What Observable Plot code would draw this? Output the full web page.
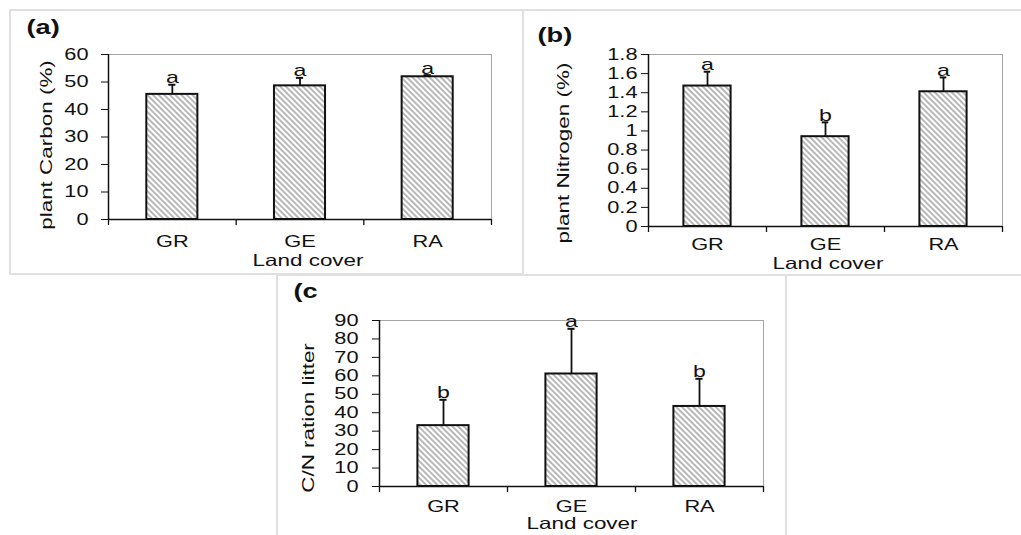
<!DOCTYPE html>
<html><head><meta charset="utf-8">
<script src="https://cdn.jsdelivr.net/npm/d3@7"></script>
<script src="https://cdn.jsdelivr.net/npm/@observablehq/plot@0.6"></script>
<style>
body{margin:0;background:#fff;width:1021px;height:535px;overflow:hidden;position:relative;font-family:"Liberation Sans",Arial,sans-serif;}
.panel{position:absolute;box-sizing:border-box;border:2px solid #e0e0e0;}
</style></head><body>
<svg width="0" height="0" style="position:absolute">
<defs><pattern id="hatch" patternUnits="userSpaceOnUse" width="4" height="4" patternTransform="rotate(-45)">
<rect width="4" height="4" fill="#fff"/><line x1="1" y1="-1" x2="1" y2="5" stroke="#a0a0a0" stroke-width="1.5"/></pattern></defs></svg>
<div class="panel" style="left:9px;top:9px;width:515px;height:266px"></div>
<div class="panel" style="left:522px;top:9px;width:510px;height:267px"></div>
<div class="panel" style="left:276px;top:274px;width:511px;height:270px"></div>
<script>
const categories = ["GR", "GE", "RA"];
const xLabel = "Land cover";

const carbonMean = [45.5, 48.6, 51.9];
const carbonSD = [3.5, 2.9, 0.6];
const carbonLetters = ["a", "a", "a"];
const carbonTicks = [0, 10, 20, 30, 40, 50, 60];

const nitrogenMean = [1.47, 0.94, 1.41];
const nitrogenSD = [0.15, 0.15, 0.15];
const nitrogenLetters = ["a", "b", "a"];
const nitrogenTicks = [0, 0.2, 0.4, 0.6, 0.8, 1, 1.2, 1.4, 1.6, 1.8];

const cnMean = [33, 61, 43.4];
const cnSD = [14, 24.5, 15];
const cnLetters = ["b", "a", "b"];
const cnTicks = [0, 10, 20, 30, 40, 50, 60, 70, 80, 90];

const panelLabels = ["(a)", "(b)", "(c"];
const yLabels = ["plant Carbon (%)", "plant Nitrogen (%)", "C/N ration litter"];

function makePanel(p) {
  const data = categories.map((c, i) => ({cat: c, i, mean: p.mean[i], top: p.mean[i] + p.sd[i], letter: p.letters[i]}));
  const plotH = p.height - p.mt - p.mb;
  const svg = Plot.plot({
    width: p.width, height: p.height,
    marginLeft: p.ml, marginRight: p.mr, marginTop: p.mt, marginBottom: p.mb,
    style: {position: "absolute", left: p.left + "px", top: p.top + "px", background: "transparent",
            overflow: "visible", fontFamily: '"Liberation Sans", Arial, sans-serif', fontSize: "16px", color: "#111"},
    x: {domain: [0, 3]},
    y: {domain: [p.ticks[0], p.ticks[p.ticks.length - 1]]},
    marks: [
      Plot.frame({stroke: "#a5a5a5", strokeWidth: 1}),
      Plot.rectY(data, {x1: d => d.i + 0.3, x2: d => d.i + 0.7, y1: 0, y2: "mean", fill: "url(#hatch)", stroke: "#111", strokeWidth: 2}),
      Plot.ruleX(data, {x: d => d.i + 0.5, y1: "mean", y2: "top", stroke: "#111", strokeWidth: 1.8}),
      Plot.ruleY(data, {y: "top", x1: d => d.i + 0.5 - 0.028, x2: d => d.i + 0.5 + 0.028, stroke: "#111", strokeWidth: 2}),
      Plot.text(data, {x: d => d.i + 0.5, y: "top", text: "letter", lineAnchor: "bottom", dy: -1.5, fontSize: 17, fill: "#111", ariaLabel: "letters"}),
      Plot.ruleX([0], {stroke: "#111", strokeWidth: 1.5}),
      Plot.ruleY([0], {stroke: "#111", strokeWidth: 1.5}),
      Plot.ruleX([0, 1, 2, 3], {insetTop: plotH, insetBottom: -6, stroke: "#111", strokeWidth: 1.3}),
      Plot.axisY({ticks: p.ticks, tickSize: 7, tickPadding: p.tp, tickFormat: d => String(d), label: null, fontSize: 16, fill: "#111"}),
      Plot.axisX({ticks: [0.5, 1.5, 2.5], tickFormat: d => categories[Math.floor(d)], tickSize: 0, tickPadding: p.xtp, label: null, fontSize: 16, fill: "#111"}),
      Plot.text([xLabel], {text: d => d, frameAnchor: "bottom", textAnchor: "middle", dx: p.xlDx, dy: p.xlDy, lineAnchor: "middle", fontSize: 16.5, fill: "#111", ariaLabel: "xlab"}),
      Plot.text([p.ylabel], {text: d => d, frameAnchor: "left", textAnchor: "middle", rotate: -90, dx: p.ylDx, dy: p.ylDy, lineAnchor: "middle", fontSize: 16.5, fill: "#111", ariaLabel: "ylab"}),
      Plot.text([p.panel], {text: d => d, frameAnchor: "top-left", textAnchor: "start", dx: p.pDx, dy: p.pDy, lineAnchor: "middle", fontSize: 20, fontWeight: "bold", fill: "#111", ariaLabel: "plab"})
    ]
  });
  document.body.appendChild(svg);
  svg.querySelectorAll("text").forEach(t => {
    const g = t.closest("g[aria-label]");
    const lab = g ? g.getAttribute("aria-label") : "";
    const f = lab === "ylab" ? 1.15 : lab === "plab" ? 1.4 : lab === "xlab" ? 1.3 : 1.36;
    const L = t.getComputedTextLength();
    if (L > 0) {
      t.setAttribute("textLength", (L * f).toFixed(2));
      t.setAttribute("lengthAdjust", "spacingAndGlyphs");
    }
  });
}

makePanel({left: 11, top: 11, width: 511, height: 262, ml: 97, mr: 31, mt: 43, mb: 54,
  mean: carbonMean, sd: carbonSD, letters: carbonLetters, ticks: carbonTicks, tp: 13, xtp: 16,
  xlDx: 8, xlDy: 41, ylabel: yLabels[0], ylDx: -62, ylDy: 8, panel: panelLabels[0], pDx: -82, pDy: -26.5});
makePanel({left: 524, top: 11, width: 494, height: 263, ml: 124, mr: 16, mt: 43, mb: 48,
  mean: nitrogenMean, sd: nitrogenSD, letters: nitrogenLetters, ticks: nitrogenTicks, tp: 4, xtp: 12,
  xlDx: 2.5, xlDy: 37, ylabel: yLabels[1], ylDx: -85, ylDy: 12.5, panel: panelLabels[1], pDx: -111, pDy: -19});
makePanel({left: 278, top: 276, width: 507, height: 259, ml: 101, mr: 22, mt: 44, mb: 49,
  mean: cnMean, sd: cnSD, letters: cnLetters, ticks: cnTicks, tp: 14, xtp: 14,
  xlDx: 10.5, xlDy: 37, ylabel: yLabels[2], ylDx: -71, ylDy: 14.5, panel: panelLabels[2], pDx: -86, pDy: -29});
</script>
</body></html>
